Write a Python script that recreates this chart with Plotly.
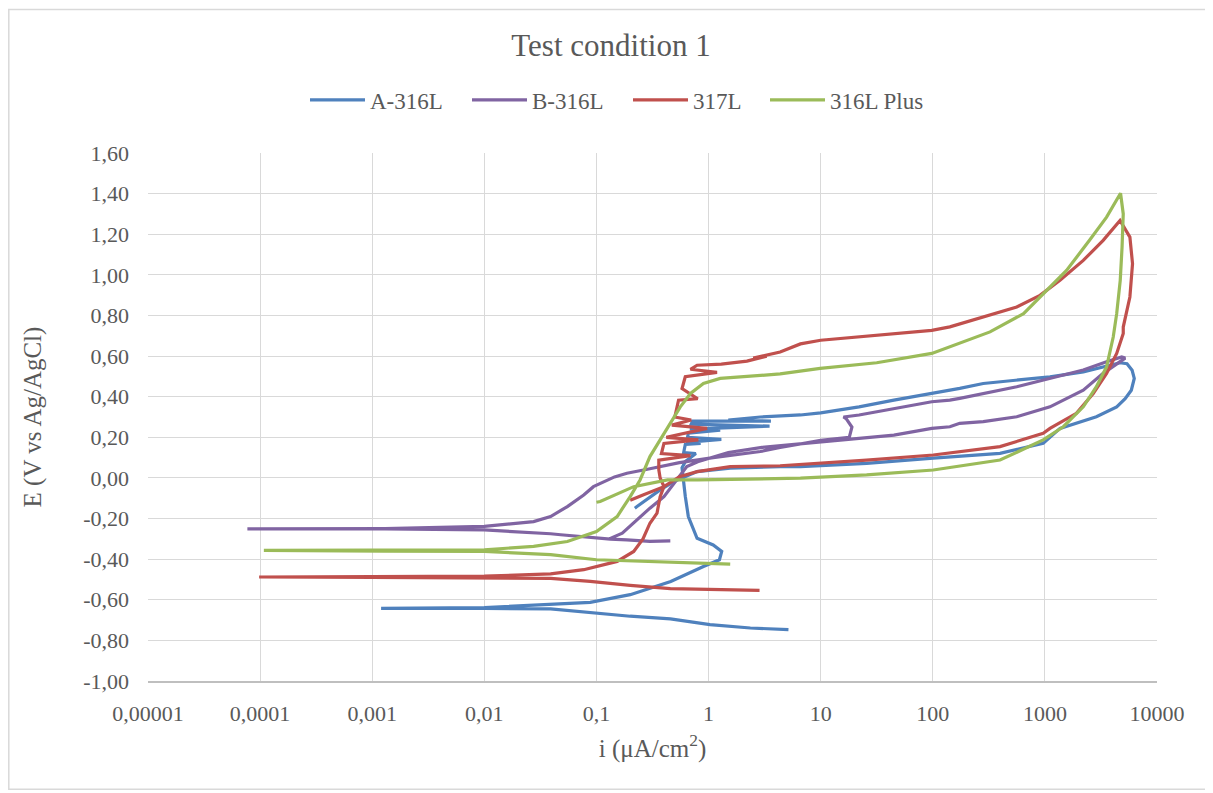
import plotly.graph_objects as go

# (current density uA/cm2, potential V vs Ag/AgCl)
a_316l = [(5.16, -0.747), (2.36, -0.739), (1.03, -0.722), (0.457, -0.694), (0.2, -0.681), (0.088, -0.662),
          (0.039, -0.645), (0.01, -0.643), (0.0012, -0.642), (0.01, -0.638), (0.039, -0.62), (0.088, -0.613),
          (0.2, -0.575), (0.46, -0.51), (0.9, -0.436), (1.25, -0.403), (1.31, -0.362), (1.10, -0.33),
          (0.79, -0.297), (0.73, -0.246), (0.66, -0.19), (0.62, -0.09), (0.60, -0.026), (0.59, 0.006),
          (0.58, 0.05), (0.62, 0.08), (0.77, 0.12), (0.60, 0.125), (0.62, 0.165), (0.85, 0.17), (0.63, 0.175),
          (1.3, 0.19), (0.65, 0.2), (0.66, 0.22), (1.27, 0.235), (0.68, 0.24), (3.5, 0.255), (0.70, 0.265),
          (0.72, 0.28), (3.6, 0.28), (1.5, 0.285), (2.9, 0.30), (6.6, 0.31), (10, 0.32), (22, 0.35),
          (45, 0.383), (98, 0.416), (174, 0.441), (282, 0.465), (561, 0.482), (1110, 0.498), (2200, 0.522),
          (3310, 0.547), (4680, 0.567), (5400, 0.562), (6000, 0.53), (6270, 0.49), (6100, 0.455),
          (5900, 0.432), (5200, 0.39), (4370, 0.35), (2880, 0.301), (1910, 0.269), (1364, 0.244),
          (966, 0.17), (398, 0.121), (101, 0.097), (25.7, 0.072), (6.6, 0.056), (4.35, 0.056), (1.56, 0.048),
          (0.79, 0.031), (0.49, -0.018), (0.37, -0.059), (0.23, -0.141), (0.22, -0.149)]

b_316l = [(0.456, -0.31), (0.3, -0.312), (0.187, -0.305), (0.133, -0.301), (0.048, -0.28), (0.039, -0.275),
          (0.01, -0.256), (0.0013, -0.251), (7.7e-5, -0.251), (0.0013, -0.249), (0.01, -0.239),
          (0.0275, -0.215), (0.039, -0.19), (0.055, -0.141), (0.077, -0.084), (0.094, -0.043),
          (0.145, 0.005), (0.187, 0.023), (0.3, 0.045), (0.55, 0.075), (1.1, 0.1), (2.2, 0.12), (2.9, 0.13),
          (4.35, 0.15), (6, 0.165), (10, 0.185), (18, 0.2), (19, 0.25), (17, 0.29), (16, 0.3), (22, 0.31),
          (45, 0.342), (98, 0.375), (142, 0.383), (174, 0.392), (561, 0.449), (1110, 0.49), (2200, 0.531),
          (3550, 0.572), (4840, 0.596), (5200, 0.59), (3310, 0.515), (2200, 0.432), (1110, 0.35),
          (561, 0.301), (282, 0.277), (174, 0.269), (142, 0.252), (98, 0.244), (45, 0.211), (22, 0.195),
          (10, 0.178), (5.7, 0.165), (3, 0.15), (1.5, 0.125), (0.8, 0.08), (0.64, 0.056), (0.52, -0.01),
          (0.4, -0.092), (0.3, -0.149), (0.23, -0.206), (0.17, -0.272), (0.13, -0.30)]

s_317l = [(2.85, -0.554), (1.19, -0.55), (0.456, -0.545), (0.2, -0.529), (0.088, -0.509), (0.039, -0.495),
          (0.01, -0.492), (0.001, -0.49), (9.8e-5, -0.488), (0.001, -0.486), (0.01, -0.484), (0.039, -0.472),
          (0.077, -0.452), (0.153, -0.411), (0.215, -0.362), (0.26, -0.30), (0.3, -0.223), (0.347, -0.173),
          (0.37, -0.092), (0.40, -0.043), (0.37, 0.0), (0.36, 0.04), (0.36, 0.088), (0.69, 0.11), (0.38, 0.12),
          (0.40, 0.17), (0.81, 0.187), (0.42, 0.2), (0.97, 0.244), (0.47, 0.26), (0.7, 0.285), (0.5, 0.3),
          (0.54, 0.383), (0.8, 0.39), (0.58, 0.44), (0.62, 0.498), (1.19, 0.52), (0.69, 0.535), (0.79, 0.555),
          (1.3, 0.56), (2.2, 0.575), (3.3, 0.60), (2.5, 0.59), (4.35, 0.62), (6.6, 0.66), (10, 0.678),
          (31.6, 0.703), (98, 0.727), (142, 0.744), (282, 0.793), (561, 0.842), (904, 0.899), (1364, 0.973),
          (2200, 1.071), (3310, 1.17), (4680, 1.268), (5730, 1.186), (6050, 1.055), (5730, 0.891),
          (5000, 0.743), (5000, 0.711), (4370, 0.613), (3550, 0.515), (2700, 0.416), (1910, 0.318),
          (1110, 0.244), (966, 0.22), (398, 0.154), (101, 0.113), (25.7, 0.088), (6.6, 0.064), (4.35, 0.06),
          (1.56, 0.056), (0.79, 0.031), (0.55, 0.006), (0.40, -0.043), (0.26, -0.084), (0.2, -0.11)]

s_316l_plus = [(1.56, -0.424), (1.0, -0.42), (0.3, -0.413), (0.1, -0.403), (0.039, -0.378), (0.01, -0.362),
               (0.00126, -0.36), (1.08e-4, -0.357), (0.001, -0.356), (0.01, -0.354), (0.0275, -0.337),
               (0.055, -0.313), (0.1, -0.264), (0.153, -0.19), (0.2, -0.092), (0.245, -0.01), (0.30, 0.105),
               (0.37, 0.187), (0.456, 0.269), (0.56, 0.35), (0.69, 0.416), (0.90, 0.465), (1.27, 0.49),
               (2.2, 0.50), (4.35, 0.512), (9.9, 0.539), (31.6, 0.567), (98, 0.613), (174, 0.665), (324, 0.719),
               (645, 0.809), (1040, 0.924), (1560, 1.022), (2500, 1.17), (3550, 1.284), (4730, 1.402),
               (5000, 1.30), (4880, 1.137), (4700, 0.973), (4370, 0.809), (4070, 0.694), (3550, 0.547),
               (2880, 0.449), (2200, 0.35), (1460, 0.252), (966, 0.187), (398, 0.088), (101, 0.039),
               (25.7, 0.015), (6.6, -0.001), (2, -0.008), (0.8, -0.01), (0.43, -0.01), (0.215, -0.043),
               (0.108, -0.116), (0.1, -0.12)]

series_names = ["A-316L", "B-316L", "317L", "316L Plus"]
series_data = [a_316l, b_316l, s_317l, s_316l_plus]
series_colors = ["#4F81BD", "#8064A2", "#C0504D", "#9BBB59"]

x_tickvals = [1e-5, 1e-4, 1e-3, 1e-2, 1e-1, 1, 10, 100, 1000, 10000]
x_ticktext = ["0,00001", "0,0001", "0,001", "0,01", "0,1", "1", "10", "100", "1000", "10000"]
y_tickvals = [-1.0, -0.8, -0.6, -0.4, -0.2, 0.0, 0.2, 0.4, 0.6, 0.8, 1.0, 1.2, 1.4, 1.6]
y_ticktext = ["-1,00", "-0,80", "-0,60", "-0,40", "-0,20", "0,00", "0,20", "0,40", "0,60", "0,80",
              "1,00", "1,20", "1,40", "1,60"]

FONT = "'Liberation Serif', 'Times New Roman', Times, 'DejaVu Serif', serif"
TXT = "#595959"

W, H = 1205, 785
ML, MR, MT, MB = 140, 56, 144.5, 111.5

# left edge (page px) of each legend entry in the original
legend_left_px = [306, 468, 629, 766]
legend_keys = ["legend", "legend2", "legend3", "legend4"]

fig = go.Figure()
for name, data, color, lk in zip(series_names, series_data, series_colors, legend_keys):
    fig.add_trace(go.Scatter(
        x=[p[0] for p in data], y=[p[1] for p in data], name=name, mode="lines",
        line=dict(color=color, width=3.2), hoverinfo="x+y+name", legend=lk))

legend_layouts = {}
for lk, lx in zip(legend_keys, legend_left_px):
    legend_layouts[lk] = dict(orientation="h", x=(lx - 8 - 1) / W, xref="container", xanchor="left",
                              y=1 - 92 / H, yref="container", yanchor="middle",
                              font=dict(size=23, color=TXT, family=FONT), itemwidth=55,
                              bgcolor="rgba(0,0,0,0)", borderwidth=0)

fig.update_layout(
    width=W, height=H,
    margin=dict(l=ML, r=MR, t=MT, b=MB, pad=0),
    paper_bgcolor="white", plot_bgcolor="white",
    font=dict(family=FONT, color=TXT, size=22),
    title=dict(text="Test condition 1", x=603 / W, xref="container", xanchor="center",
               y=1 - 37 / H, yref="container", yanchor="middle",
               font=dict(size=31, color=TXT, family=FONT)),
    xaxis=dict(type="log", range=[-5, 4], tickvals=x_tickvals, ticktext=x_ticktext,
               showgrid=True, gridcolor="#D9D9D9", gridwidth=1.3,
               showline=True, linecolor="#BFBFBF", linewidth=1.5, mirror=False,
               zeroline=False, ticks="", ticklabelstandoff=12,
               tickfont=dict(size=22, color=TXT, family=FONT),
               title=dict(text="i (μA/cm<sup>2</sup>)", font=dict(size=25, color=TXT, family=FONT),
                          standoff=14)),
    yaxis=dict(range=[-1, 1.6], tickvals=y_tickvals, ticktext=y_ticktext,
               showgrid=True, gridcolor="#D9D9D9", gridwidth=1.3,
               showline=False, zeroline=False, ticks="", ticklabelstandoff=18,
               tickfont=dict(size=22, color=TXT, family=FONT),
               title=dict(text="E (V vs Ag/AgCl)", font=dict(size=25, color=TXT, family=FONT),
                          standoff=34)),
    showlegend=True,
    **legend_layouts,
)

# chart-area border like the original
pw, ph = W - ML - MR, H - MT - MB
fig.add_shape(type="rect", xref="paper", yref="paper",
              x0=(0.8 - ML) / pw, x1=(W - 3 - ML) / pw,
              y0=(H - MB - (H - 3)) / ph, y1=(H - MB - 0.8) / ph,
              line=dict(color="#D9D9D9", width=1.5), fillcolor="rgba(0,0,0,0)", layer="below")

fig.write_html("out.html")
